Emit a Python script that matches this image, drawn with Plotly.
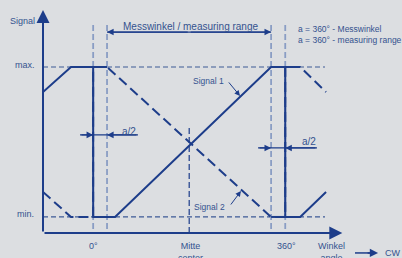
import plotly.graph_objects as go

# ---------------- data (angle in degrees, signal level normalised min=0 / max=1)
angle_sig1 = [-94, -41.5, 0, 0, 41, 333.5, 360, 360, 388, 436.5]
level_sig1 = [0.833, 1, 1, 0, 0, 1, 1, 0, 0, 0.167]
angle_sig2 = [-94, -41.5, 0, 0, 26, 333.5, 360, 360, 388, 436.5]
level_sig2 = [0.167, 0, 0, 1, 1, 0, 0, 1, 1, 0.833]

LEVEL_MAX = 1
LEVEL_MIN = 0
ANGLE_0 = 0
ANGLE_360 = 360
RANGE_START = 26      # 0° + a/2
RANGE_END = 333.5     # 360° - a/2
CENTER = 180

tick_angles = [0, 180, 360]
tick_labels = ["0°", "Mitte<br>center", "360°"]

# ---------------- style
BG = "#dcdee1"
LINE = "#1d3d8a"
TEXT = "#34528f"
REF = "#3d5a96"
LIGHT = "#8a9dc4"
FONT = "Arial, Liberation Sans, sans-serif"

X_RANGE = [-94, 472]
Y_RANGE = [-0.107, 1.38]


def px(x):
    return (x - X_RANGE[0]) / (X_RANGE[1] - X_RANGE[0])


def py(y):
    return (y - Y_RANGE[0]) / (Y_RANGE[1] - Y_RANGE[0])


fig = go.Figure()

# Signal 2 (dashed slopes)
fig.add_trace(go.Scatter(x=angle_sig2, y=level_sig2, mode="lines",
                         line=dict(color=LINE, width=2, dash="10px,5px"),
                         hoverinfo="skip"))
# Signal 2 flat parts inside the shown period (solid)
for i in range(len(angle_sig2) - 1):
    if level_sig2[i] == level_sig2[i + 1] and angle_sig2[i] >= ANGLE_0:
        fig.add_trace(go.Scatter(x=angle_sig2[i:i + 2], y=level_sig2[i:i + 2],
                                 mode="lines", line=dict(color=LINE, width=2),
                                 hoverinfo="skip"))
# Signal 1 (solid)
fig.add_trace(go.Scatter(x=angle_sig1, y=level_sig1, mode="lines",
                         line=dict(color=LINE, width=2), hoverinfo="skip"))

shapes = []
for lv in (LEVEL_MAX, LEVEL_MIN):
    shapes.append(dict(type="line", xref="x", yref="y", x0=X_RANGE[0], x1=434.5,
                       y0=lv, y1=lv, layer="below",
                       line=dict(color=REF, width=1.2, dash="5px,3px")))
for a in (ANGLE_0, RANGE_START, RANGE_END, ANGLE_360):
    shapes.append(dict(type="line", xref="x", yref="y", x0=a, x1=a,
                       y0=1.28, y1=Y_RANGE[0], layer="below",
                       line=dict(color=LIGHT, width=1.8, dash="6px,3px")))
shapes.append(dict(type="line", xref="x", yref="y", x0=CENTER, x1=CENTER,
                   y0=0.593, y1=Y_RANGE[0], layer="below",
                   line=dict(color=LINE, width=1.2, dash="6px,3px")))
shapes.append(dict(type="line", xref="x", yref="y", x0=-24.7, x1=84,
                   y0=0.547, y1=0.547, line=dict(color=LINE, width=1.2)))
shapes.append(dict(type="line", xref="x", yref="y", x0=309, x1=419.5,
                   y0=0.46, y1=0.46, line=dict(color=LINE, width=1.2)))
shapes.append(dict(type="line", xref="x", yref="y", x0=RANGE_START, x1=RANGE_END,
                   y0=1.233, y1=1.233, line=dict(color=LINE, width=1.2)))
# CW arrow shaft (outside the plot area -> paper coords)
shapes.append(dict(type="line", xref="paper", yref="paper", x0=px(490.7), x1=px(528),
                   y0=py(-0.24), y1=py(-0.24), line=dict(color=LINE, width=1.5)))

ann = []


def arrow(x, y, ax, ay, width=1.2, size=1.0, head=2, color=LINE):
    ann.append(dict(x=x, y=y, ax=ax, ay=ay, xref="x", yref="y", axref="x",
                    ayref="y", text="", showarrow=True, arrowhead=head,
                    arrowwidth=width, arrowsize=size, arrowcolor=color,
                    standoff=0, startstandoff=0))


def label(x, y, text, size=9, xanchor="center", yanchor="middle"):
    ann.append(dict(x=px(x), y=py(y), xref="paper", yref="paper", text=text,
                    showarrow=False, xanchor=xanchor, yanchor=yanchor,
                    font=dict(family=FONT, size=size, color=TEXT)))


# axes with arrow heads
arrow(X_RANGE[0], Y_RANGE[1], X_RANGE[0], Y_RANGE[0], width=2, size=1.3, head=2)
arrow(X_RANGE[1] - 5, Y_RANGE[0], X_RANGE[0], Y_RANGE[0], width=2, size=1.3, head=2)

# measuring range arrows
arrow(RANGE_START, 1.233, CENTER, 1.233, width=1.2, size=1.1)
arrow(RANGE_END, 1.233, CENTER, 1.233, width=1.2, size=1.1)
# a/2 arrows
arrow(ANGLE_0, 0.547, -24.7, 0.547, width=1.2, size=1.1)
arrow(RANGE_START, 0.547, 84, 0.547, width=1.2, size=1.1)
arrow(RANGE_END, 0.46, 309, 0.46, width=1.2, size=1.1)
arrow(ANGLE_360, 0.46, 419.5, 0.46, width=1.2, size=1.1)
# signal leaders
arrow(275.2, 0.807, 252, 0.907, width=1, size=1.1)
arrow(277, 0.173, 256, 0.073, width=1, size=1.1)
# CW arrow head
ann.append(dict(x=px(534), y=py(-0.24), xref="paper", yref="paper",
                ax=-12, ay=0, text="", showarrow=True, arrowhead=2,
                arrowwidth=1.5, arrowsize=1.1, arrowcolor=LINE, standoff=0))

# texts
label(-133, 1.307, "Signal")
label(-106, 1.013, "max.", xanchor="right")
label(-108, 0.02, "min.", xanchor="right")
label(182, 1.273, "Messwinkel / measuring range", size=10)
label(380, 1.253, "a = 360° - Messwinkel", size=8.5, xanchor="left")
label(380, 1.18, "a = 360° - measuring range", size=8.5, xanchor="left")
label(68, 0.573, "a/2", size=10)
label(404.5, 0.5, "a/2", size=10)
label(217, 0.907, "Signal 1", size=8.5)
label(218, 0.067, "Signal 2", size=8.5)
for a, t in zip(tick_angles, tick_labels):
    label(a + (2 if a else 0), -0.148, t, size=9, yanchor="top")
label(447.6, -0.148, "Winkel<br>angle", size=9, yanchor="top")
label(562, -0.24, "CW", size=9)

fig.update_layout(
    width=402, height=258,
    margin=dict(l=43, r=57, t=10, b=25),
    paper_bgcolor=BG, plot_bgcolor=BG,
    showlegend=False,
    xaxis=dict(range=X_RANGE, visible=False, fixedrange=True),
    yaxis=dict(range=Y_RANGE, visible=False, fixedrange=True),
    shapes=shapes, annotations=ann,
)

fig.write_html("out.html", config={"displayModeBar": False},
               post_script="document.body.style.margin='0';"
                           "document.body.style.background='" + BG + "';")
